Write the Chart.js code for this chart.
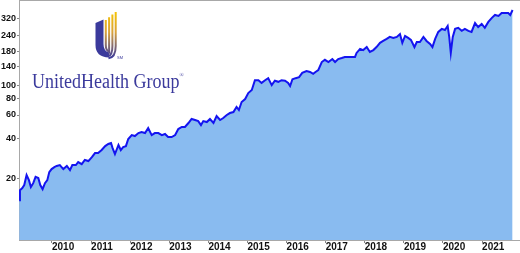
<!DOCTYPE html>
<html>
<head>
<meta charset="utf-8">
<script src="https://cdn.jsdelivr.net/npm/chart.js@4"></script>
<style>
  html, body { margin: 0; padding: 0; background: #fff; }
  #wrap { position: relative; width: 520px; height: 253px; overflow: hidden; }
  #logoText {
    position: absolute; left: 32px; top: 65px;
    font-family: "Liberation Serif", "DejaVu Serif", serif;
    font-size: 20px; line-height: 20px; color: #3b3a9c;
    transform: scaleX(0.9); transform-origin: left top; white-space: nowrap;
  }
  #logoText sup { font-size: 6px; vertical-align: 11px; }
  #logoIcon { position: absolute; left: 0; top: 0; }
</style>
</head>
<body>
<div id="wrap">
  <canvas id="grafico" width="520" height="253"></canvas>
  <svg id="logoIcon" width="200" height="100" viewBox="0 0 200 100">
    <defs>
      <linearGradient id="ouro" x1="0" y1="11" x2="0" y2="58" gradientUnits="userSpaceOnUse">
        <stop offset="0" stop-color="#f6c400"/>
        <stop offset="0.45" stop-color="#d9a23a"/>
        <stop offset="1" stop-color="#3b3a9c"/>
      </linearGradient>
    </defs>
    <path d="M95.5,23 L103.5,19.5 L103.5,44 Q103.5,51 109,52.5 L109,57.5 Q95.5,57 95.5,45 Z" fill="#3b3a9c"/>
    <path d="M105.8,20 L105.8,45 Q105.8,50.5 109,51.5" fill="none" stroke="url(#ouro)" stroke-width="2"/>
    <path d="M109.1,17.3 L109.1,46 Q109.1,53 109.5,53.8" fill="none" stroke="url(#ouro)" stroke-width="2"/>
    <path d="M112.4,14.6 L112.4,46 Q112.4,55 108.5,56" fill="none" stroke="url(#ouro)" stroke-width="2"/>
    <path d="M115.7,12 L115.7,46 Q115.7,57.5 108.5,58.2" fill="none" stroke="url(#ouro)" stroke-width="2"/>
    <text x="117" y="59" font-size="4" font-family="Liberation Sans, sans-serif" fill="#3b3a9c">SM</text>
  </svg>
  <div id="logoText">UnitedHealth Group<sup>®</sup></div>
</div>
<script>
// valores (ano decimal, preco)
const anos = [2009.16, 2009.18, 2009.24, 2009.29, 2009.35, 2009.41, 2009.46, 2009.52, 2009.58, 2009.65,
  2009.70, 2009.76, 2009.82, 2009.88, 2009.93, 2009.99, 2010.06, 2010.12, 2010.20, 2010.29,
  2010.38, 2010.46, 2010.52, 2010.61, 2010.67, 2010.76, 2010.84, 2010.93, 2011.02, 2011.10,
  2011.18, 2011.27, 2011.36, 2011.44, 2011.51, 2011.55, 2011.61, 2011.70, 2011.76, 2011.82,
  2011.89, 2011.95, 2012.04, 2012.12, 2012.21, 2012.29, 2012.38, 2012.46, 2012.55, 2012.63,
  2012.72, 2012.81, 2012.89, 2012.97, 2013.06, 2013.15, 2013.23, 2013.32, 2013.40, 2013.49,
  2013.57, 2013.66, 2013.74, 2013.81, 2013.87, 2013.96, 2014.04, 2014.13, 2014.21, 2014.30,
  2014.38, 2014.47, 2014.55, 2014.64, 2014.72, 2014.78, 2014.85, 2014.94, 2015.02, 2015.11,
  2015.19, 2015.28, 2015.36, 2015.45, 2015.53, 2015.62, 2015.70, 2015.79, 2015.87, 2015.96,
  2016.04, 2016.09, 2016.15, 2016.23, 2016.32, 2016.40, 2016.51, 2016.60, 2016.68, 2016.74,
  2016.81, 2016.90, 2016.98, 2017.07, 2017.17, 2017.24, 2017.32, 2017.41, 2017.49, 2017.58,
  2017.66, 2017.75, 2017.79, 2017.88, 2017.96, 2018.05, 2018.13, 2018.22, 2018.30, 2018.39,
  2018.47, 2018.56, 2018.64, 2018.73, 2018.82, 2018.90, 2018.96, 2019.03, 2019.11, 2019.18,
  2019.27, 2019.33, 2019.41, 2019.50, 2019.58, 2019.67, 2019.73, 2019.80, 2019.88, 2019.97,
  2020.05, 2020.12, 2020.16, 2020.20, 2020.25, 2020.31, 2020.39, 2020.48, 2020.56, 2020.65,
  2020.73, 2020.82, 2020.90, 2020.99, 2021.07, 2021.16, 2021.25, 2021.33, 2021.42, 2021.50,
  2021.59, 2021.67, 2021.72, 2021.78];

const precos = [13.6, 16.2, 16.8, 17.7, 21.1, 19.3, 17.1, 18.3, 20.4, 20.0,
  17.7, 16.5, 18.3, 19.3, 22.2, 23.4, 24.2, 24.7, 25.1, 23.4,
  24.7, 23.0, 25.1, 25.1, 26.4, 25.5, 27.4, 26.9, 28.8, 30.9,
  30.9, 32.6, 34.9, 36.2, 36.8, 33.7, 30.4, 35.6, 32.6, 34.3,
  34.9, 39.5, 42.3, 41.6, 43.8, 44.6, 43.8, 47.8, 42.3, 43.8,
  43.8, 42.3, 43.1, 40.9, 40.9, 42.3, 47.0, 48.7, 48.7, 52.2,
  56.0, 55.0, 54.0, 50.4, 54.0, 53.1, 56.0, 52.2, 59.0, 55.0,
  56.9, 60.0, 62.1, 63.2, 69.0, 65.5, 75.3, 79.3, 88.0, 92.8,
  110, 110, 105, 110, 114, 101, 109, 107, 110, 109,
  105, 99.5, 112, 114, 116, 125, 129, 127, 123, 127,
  131, 151, 157, 151, 159, 151, 159, 162, 165, 165,
  165, 165, 177, 190, 186, 196, 180, 186, 196, 211,
  218, 226, 234, 230, 234, 246, 211, 238, 230, 222,
  196, 214, 214, 234, 218, 207, 196, 226, 255, 269,
  264, 283, 234, 177, 234, 269, 274, 260, 269, 260,
  255, 298, 278, 293, 274, 304, 326, 343, 337, 355,
  355, 355, 343, 374];

const ticksY = [20, 40, 60, 80, 100, 140, 180, 240, 320];
const ticksX = [2010, 2011, 2012, 2013, 2014, 2015, 2016, 2017, 2018, 2019, 2020, 2021];

const pontos = anos.map((a, i) => ({ x: a, y: precos[i] }));

// linha de cima do quadro
const bordaTopo = {
  id: 'bordaTopo',
  afterDraw(chart) {
    const ctx = chart.ctx;
    const area = chart.chartArea;
    ctx.save();
    ctx.strokeStyle = '#a8a8a8';
    ctx.lineWidth = 1;
    ctx.beginPath();
    ctx.moveTo(area.left, area.top + 0.5);
    ctx.lineTo(chart.width, area.top + 0.5);
    ctx.stroke();
    ctx.restore();
  }
};

const config = {
  type: 'line',
  data: {
    datasets: [{
      data: pontos,
      borderColor: '#1414f0',
      backgroundColor: '#89bbf0',
      borderWidth: 2,
      pointRadius: 0,
      fill: 'start',
      tension: 0
    }]
  },
  options: {
    responsive: false,
    animation: false,
    layout: { padding: 0 },
    plugins: { legend: { display: false }, tooltip: { enabled: false } },
    scales: {
      x: {
        type: 'linear',
        min: 2009.156,
        max: 2021.97,
        afterBuildTicks: (axis) => { axis.ticks = ticksX.map(v => ({ value: v })); },
        afterFit: (axis) => {
          axis.height = 13;
          axis.paddingLeft = 0;
          axis.paddingRight = 0;
        },
        grid: { display: true, drawOnChartArea: false, tickLength: 3, color: '#888' },
        border: { display: true, color: '#a8a8a8' },
        ticks: {
          align: 'start',
          padding: -1,
          maxRotation: 0,
          autoSkip: false,
          color: '#111',
          font: { family: 'Liberation Sans, Arial, sans-serif', size: 10, weight: 'bold', lineHeight: 1 },
          callback: (v) => String(v)
        }
      },
      y: {
        type: 'logarithmic',
        min: 6.8,
        max: 445,
        afterBuildTicks: (axis) => { axis.ticks = ticksY.map(v => ({ value: v })); },
        afterFit: (axis) => {
          axis.width = 19;
          axis.paddingTop = 0;
          axis.paddingBottom = 0;
        },
        grid: { display: true, drawOnChartArea: false, tickLength: 2, color: '#888' },
        border: { display: true, color: '#a8a8a8' },
        ticks: {
          padding: 1,
          autoSkip: false,
          color: '#111',
          font: { family: 'Liberation Sans, Arial, sans-serif', size: 9, weight: 'bold' },
          callback: (v) => String(v)
        }
      }
    }
  },
  plugins: [bordaTopo]
};

const grafico = new Chart(document.getElementById('grafico'), config);
</script>
</body>
</html>
